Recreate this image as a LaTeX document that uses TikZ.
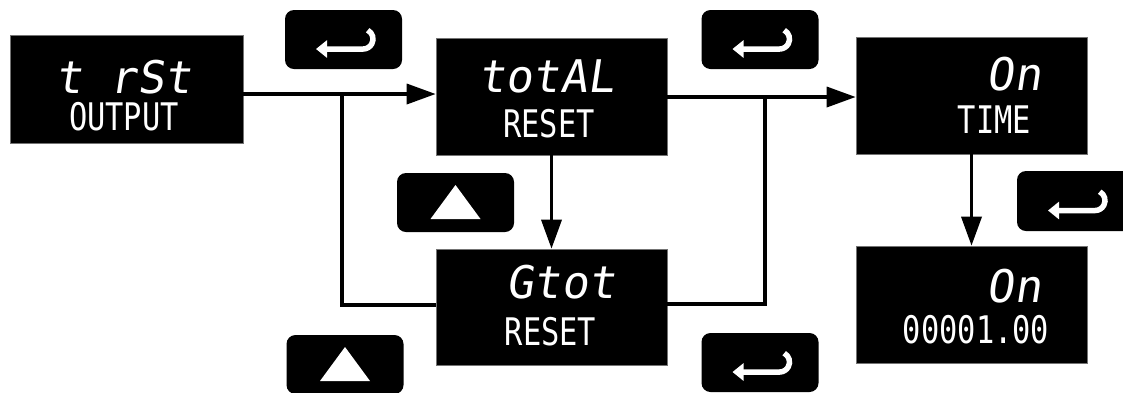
\documentclass[tikz,border=0pt]{standalone}
\usepackage{fontspec}
\newfontfamily\lcdtop[FakeSlant=0.15]{DejaVu Sans Mono}
\newfontfamily\lcdbot[FakeStretch=0.8]{DejaVu Sans Mono}
\usetikzlibrary{arrows.meta,calc}
\newcommand\enterglyph[1]{%
  \begin{scope}[shift={(#1.center)}]
    \draw[white, line width=5.5pt, -{Triangle[length=11pt,width=17pt]}]
      (24.2,-9.3) arc[start angle=-62, end angle=90, radius=10] -- (-27.5,9.5);
  \end{scope}}
\newcommand\upglyph[1]{%
  \begin{scope}[shift={(#1.center)}]
    \fill[white] (0,-17.5) -- (25,16.5) -- (-25,16.5) -- cycle;
  \end{scope}}
\begin{document}
\begin{tikzpicture}[x=1pt,y=-1pt,
  disp/.style={fill=black, draw=black!55, line width=0.6pt, minimum width=231pt, minimum height=117pt, inner sep=0pt},
  btn/.style={fill=black, rounded corners=9pt, minimum width=117pt, minimum height=59pt, inner sep=0pt},
  conn/.style={line width=3.5pt},
  arr/.style={conn, -{Triangle[length=29pt,width=20pt]}},
  txtA/.style={text=white, font=\lcdtop\fontsize{45pt}{45pt}\selectfont, inner sep=0pt, anchor=base},
  txtB/.style={text=white, font=\lcdbot\fontsize{38pt}{38pt}\selectfont, inner sep=0pt, anchor=base}]
\useasboundingbox (0,0) rectangle (1123,392);
\fill[white] (0,0) rectangle (1123,392);
\clip (0,0) rectangle (1123,392);

% display boxes
\node[disp, minimum width=233pt, minimum height=108pt] (b1) at (126.5,89) {};
\node[disp] (b2) at (551.5,96.5) {};
\node[disp, minimum height=116pt] (b4) at (551.5,307) {};
\node[disp] (b3) at (971.5,95.5) {};
\node[disp] (b5) at (971.5,304.5) {};

% buttons
\node[btn] (k1) at (343.5,39.5) {};
\node[btn] (k2) at (760,39.5) {};
\node[btn] (k3) at (455.5,202.5) {};
\node[btn] (k4) at (345,364.5) {};
\node[btn, minimum height=60pt] (k5) at (1075.5,201) {};
\node[btn] (k6) at (760,362.5) {};
\enterglyph{k1}
\enterglyph{k2}
\enterglyph{k5}
\enterglyph{k6}
\upglyph{k3}
\upglyph{k4}

% connectors
\coordinate (j1) at (342,94);
\coordinate (j2) at (765,97);
\draw[arr] (b1.east |- j1) -- (b2.west |- j1);
\draw[conn] (j1) |- ($(b4.west)+(0,-2)$);
\draw[arr] (b2.east |- j2) -- (b3.west |- j2);
\draw[conn] (j2) |- ($(b4.east)+(0,-3)$);
\draw[arr] (b2.south) -- (b4.north);
\draw[arr] (b3.south) -- (b5.north);

% texts
\node[txtA] (t1a) at (123.5,93) {t rSt};
\node[txtB] (t1b) at (124,130) {OUTPUT};
\node[txtA] (t2a) at (546.5,92) {totAL};
\node[txtB] (t2b) at (549,137) {RESET};
\node[txtA] (t4a) at (561,298) {Gtot};
\node[txtB] (t4b) at (550.5,345) {RESET};
\node[txtA] (t3a) at (1014,90) {On};
\node[txtB] (t3b) at (994.5,133) {TIME};
\node[txtA] (t5a) at (1014,302) {On};
\node[txtB] (t5b) at (976,343) {00001.00};
\end{tikzpicture}
\end{document}
